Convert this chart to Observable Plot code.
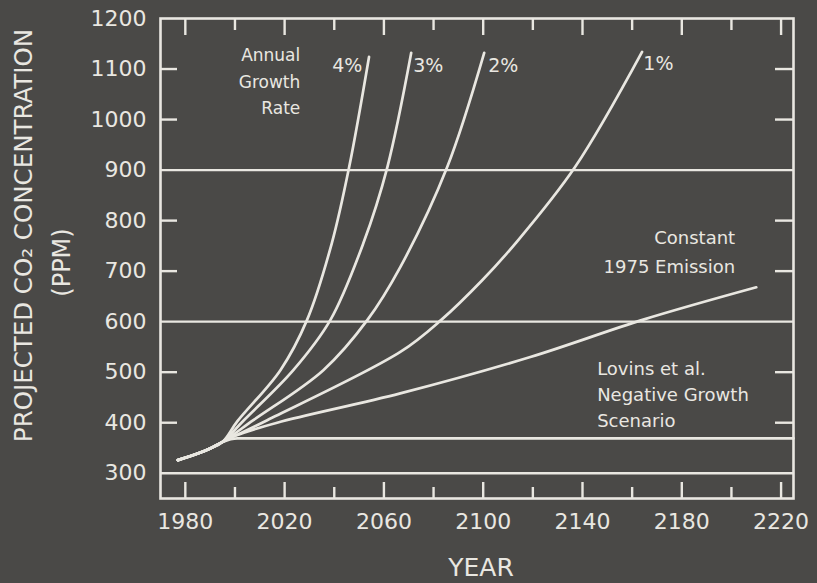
<!DOCTYPE html>
<html><head><meta charset="utf-8">
<script src="https://cdn.jsdelivr.net/npm/d3@7"></script>
<script src="https://cdn.jsdelivr.net/npm/@observablehq/plot@0.6"></script>
<style>
html,body{margin:0;padding:0;background:#4a4947;}
#chart svg{display:block}
</style></head><body><div id="chart"></div>
<script>
// ---- data ----
const trunkYears = [1977, 1985, 1990, 1995];
const trunkPPM   = [326, 339, 349, 362];
const rate4Years = [2001, 2018.3, 2029, 2039, 2046, 2054];
const rate4PPM   = [403, 504, 603, 755, 906, 1124];
const rate3Years = [2003.4, 2023.5, 2038.4, 2051.7, 2061.4, 2071];
const rate3PPM   = [404, 504, 603, 755, 906, 1132];
const rate2Years = [2007.4, 2035.6, 2053.3, 2066.6, 2085.5, 2100.4];
const rate2PPM   = [405, 504, 603, 708, 906, 1132];
const rate1Years = [2013, 2066.6, 2083, 2099.6, 2113, 2137, 2164];
const rate1PPM   = [405, 540, 603, 682, 755, 906, 1134];
const constYears = [2000, 2017, 2066.6, 2119, 2164.5, 2210];
const constPPM   = [374, 400, 458, 530, 604, 668];
const lovinsYears = [2001, 2225];
const lovinsPPM   = [369, 369];
const gridPPM = [300, 600, 900];
const yTickValues = [300, 400, 500, 600, 700, 800, 900, 1000, 1100, 1200];
const yInnerTicks = [400, 500, 700, 800, 1000, 1100];
const xTickValues = [1980, 2020, 2060, 2100, 2140, 2180, 2220];
const xMinorTicks = [2000, 2040, 2080, 2120, 2160, 2200];
const rateLabels = ["4%", "3%", "2%", "1%"];

// ---- build tables ----
const toRows = (name, ys, ps) => [
  ...trunkYears.map((y, i) => ({name, year: y, ppm: trunkPPM[i]})),
  ...ys.map((y, i) => ({name, year: y, ppm: ps[i]}))
];
const growthRows = [
  ...toRows("4%", rate4Years, rate4PPM), ...toRows("3%", rate3Years, rate3PPM),
  ...toRows("2%", rate2Years, rate2PPM), ...toRows("1%", rate1Years, rate1PPM),
  ...toRows("const", constYears, constPPM)
];
const lovinsRows = toRows("lovins", lovinsYears, lovinsPPM);

const fg = "#e9e7e1", bg = "#4a4947";
const W = 817, H = 583, mL = 160, mR = 24, mT = 18, mB = 85;
const fw = W - mL - mR, fh = H - mT - mB;

const chart = Plot.plot({
  width: W, height: H,
  marginLeft: mL, marginRight: mR, marginTop: mT, marginBottom: mB,
  style: {background: bg, color: fg, fontFamily: "DejaVu Sans", fontSize: "22px"},
  x: {domain: [1970, 2225], label: null},
  y: {domain: [250, 1200], label: null},
  marks: [
    Plot.ruleY(gridPPM, {stroke: fg, strokeWidth: 2.4}),
    Plot.tickY(yInnerTicks, {y: d => d, stroke: fg, strokeWidth: 2.4, insetRight: fw - 17}),
    Plot.tickY(yInnerTicks, {y: d => d, stroke: fg, strokeWidth: 2.4, insetLeft: fw - 18}),
    Plot.tickX(xTickValues, {x: d => d, stroke: fg, strokeWidth: 2.4, insetTop: fh - 16}),
    Plot.tickX(xMinorTicks, {x: d => d, stroke: fg, strokeWidth: 2.4, insetTop: fh - 11}),
    Plot.tickX(xTickValues, {x: d => d, stroke: fg, strokeWidth: 2.4, insetBottom: fh - 17}),
    Plot.tickX(xMinorTicks, {x: d => d, stroke: fg, strokeWidth: 2.4, insetBottom: fh - 12}),
    Plot.line(growthRows, {x: "year", y: "ppm", z: "name", stroke: fg, strokeWidth: 2.7, curve: "catmull-rom"}),
    Plot.line(lovinsRows, {x: "year", y: "ppm", z: "name", stroke: fg, strokeWidth: 2.7, curve: "monotone-x"}),
    Plot.frame({stroke: fg, strokeWidth: 2.6}),
    Plot.axisY({ticks: yTickValues, tickFormat: d => String(d), tickSize: 0, tickPadding: 14, fontSize: 22, label: null}),
    Plot.axisX({ticks: xTickValues, tickFormat: d => String(d), tickSize: 0, tickPadding: 15, fontSize: 22, label: null}),
    Plot.text(["YEAR"], {frameAnchor: "bottom", dy: 69, dx: 4, lineAnchor: "middle", fontSize: 25, fill: fg}),
    Plot.text(["PROJECTED CO\u2082 CONCENTRATION"], {frameAnchor: "left", rotate: -90, dx: -136, dy: -23, textAnchor: "middle", lineAnchor: "middle", fontSize: 24.5, fill: fg}),
    Plot.text(["(PPM)"], {frameAnchor: "left", rotate: -90, dx: -98, dy: 4, textAnchor: "middle", lineAnchor: "middle", fontSize: 24, fill: fg}),
    Plot.text(["Annual\nGrowth\nRate"], {x: 2026.3, y: 1080, textAnchor: "end", lineAnchor: "middle", lineHeight: 1.55, fontSize: 17, fill: fg}),
    Plot.text([rateLabels[0]], {x: 2051.3, y: 1106, textAnchor: "end", lineAnchor: "middle", fontSize: 19, fill: fg}),
    Plot.text([rateLabels[1]], {x: 2071.8, y: 1106, textAnchor: "start", lineAnchor: "middle", fontSize: 19, fill: fg}),
    Plot.text([rateLabels[2]], {x: 2102.0, y: 1106, textAnchor: "start", lineAnchor: "middle", fontSize: 19, fill: fg}),
    Plot.text([rateLabels[3]], {x: 2164.5, y: 1110, textAnchor: "start", lineAnchor: "middle", fontSize: 19, fill: fg}),
    Plot.text(["Constant\n1975 Emission"], {x: 2201.5, y: 742.6, textAnchor: "end", lineAnchor: "middle", lineHeight: 1.6, fontSize: 18, fill: fg}),
    Plot.text(["Lovins et al.\nNegative Growth\nScenario"], {x: 2145.9, y: 460, textAnchor: "start", lineAnchor: "middle", lineHeight: 1.45, fontSize: 18, fill: fg})
  ]
});
document.getElementById("chart").append(chart);
</script>
</body></html>
